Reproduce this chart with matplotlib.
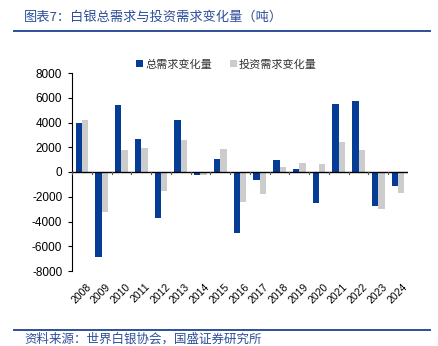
import numpy as np
import matplotlib
matplotlib.use("Agg")
import matplotlib.pyplot as plt
from matplotlib.lines import Line2D

plt.rcParams['font.family'] = ['Noto Sans CJK SC', 'DejaVu Sans']

years = ['2008', '2009', '2010', '2011', '2012', '2013', '2014', '2015', '2016',
         '2017', '2018', '2019', '2020', '2021', '2022', '2023', '2024']
total_change = [3930, -6900, 5400, 2670, -3700, 4230, -270, 1070, -4900,
                -640, 960, 240, -2470, 5490, 5730, -2710, -1100]
invest_change = [4200, -3240, 1790, 1950, -1560, 2600, -250, 1850, -2440,
                 -1770, 370, 750, 670, 2430, 1740, -2970, -1690]

blue = '#043c96'
gray = '#cccccc'
title_blue = '#2d4f9a'

fig = plt.figure(figsize=(4.38, 3.46), dpi=100)
ax = fig.add_axes([72/438, 1-271/346, 336/438, 198/346])

x = np.arange(len(years))
w = 0.32
ax.bar(x - w/2, total_change, w, color=blue, label='总需求变化量')
ax.bar(x + w/2, invest_change, w, color=gray, label='投资需求变化量')

ax.set_xlim(-0.5, len(years) - 0.5)
ax.set_ylim(-8000, 8000)
ax.set_yticks(range(-8000, 8001, 2000))
ax.set_yticklabels([str(v) for v in range(-8000, 8001, 2000)],
                   family='Liberation Sans', fontsize=8.5)
ax.tick_params(axis='y', length=3, width=0.8, pad=4)

ax.spines['top'].set_visible(False)
ax.spines['right'].set_visible(False)
ax.spines['bottom'].set_visible(False)
ax.spines['left'].set_linewidth(0.8)
ax.set_xticks([])
ax.axhline(0, color='black', lw=1.0, zorder=3)
# small ticks on the zero line at category boundaries
for b in np.arange(-0.5, len(years), 1.0):
    ax.plot([b, b], [0, -200], color='#555555', lw=0.8, zorder=3)

for i, yr in enumerate(years):
    ax.text(i + 0.2, -8850, yr, rotation=45, ha='right', va='top',
            family='Liberation Sans', fontsize=7.5, rotation_mode='anchor')

leg = ax.legend(loc='upper center', bbox_to_anchor=(0.46, 1.12), ncol=2,
                frameon=False, fontsize=8, handlelength=0.6, handleheight=0.6,
                handletextpad=0.2, columnspacing=1.6)
for t in leg.get_texts():
    t.set_color('#333333')

fig.text(24/438, 1-17/346, '图表7：白银总需求与投资需求变化量（吨）', color=title_blue,
         fontsize=9.5, va='center', ha='left')
fig.add_artist(Line2D([14/438, 430/438], [1-31/346, 1-31/346], color=title_blue, lw=1.4))
fig.add_artist(Line2D([14/438, 430/438], [1-330/346, 1-330/346], color=title_blue, lw=1.4))
fig.text(24/438, 1-339/346, '资料来源：世界白银协会，国盛证券研究所', color=title_blue,
         fontsize=9, va='center', ha='left')

fig.savefig('out.png', dpi=100)
